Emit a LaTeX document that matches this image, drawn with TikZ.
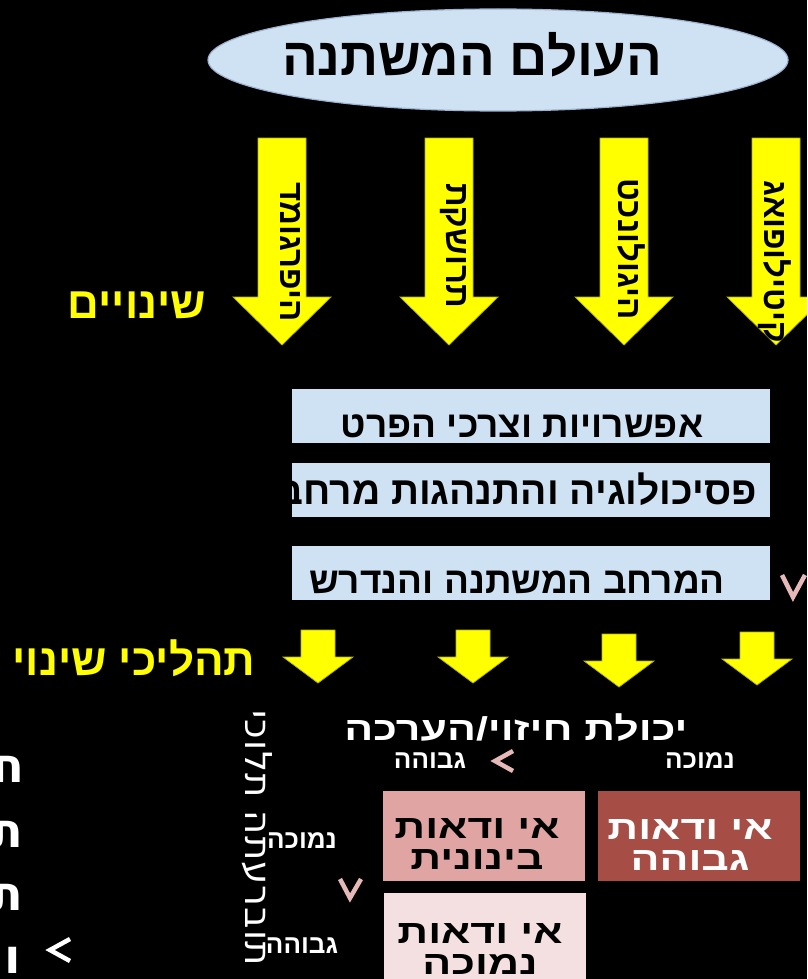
\documentclass[tikz,border=0pt]{standalone}
\usepackage{fontspec}
\usetikzlibrary{shapes.geometric}
\newfontfamily\hebfont[Script=Hebrew]{Liberation Sans}
\newfontfamily\hebwide[Script=Hebrew,FakeStretch=1.3]{Liberation Sans}
\newfontfamily\hebround[Script=Hebrew,LetterSpace=3]{DejaVu Sans}
\TeXXeTstate=1
\newcommand{\rtl}[1]{\beginR #1\endR}
\definecolor{worldblue}{HTML}{CFE2F3}
\definecolor{worldedge}{HTML}{9DB3CF}
\definecolor{changeyellow}{HTML}{FFFF00}
\definecolor{yellowedge}{HTML}{B5B500}
\definecolor{markpink}{HTML}{E6B9B8}
\definecolor{lowred}{HTML}{F4E0E0}
\definecolor{midred}{HTML}{E0A4A3}
\definecolor{highred}{HTML}{A64D45}
\begin{document}
\begin{tikzpicture}[x=1pt, y=-1pt,
    bigarrow/.style={fill=changeyellow, draw=yellowedge, line width=0.7pt},
    arrowlabel/.style={rotate=-90, anchor=base west, inner sep=0pt,
      font=\hebfont\bfseries\fontsize{33}{33}\selectfont},
    infobox/.style={fill=worldblue, inner sep=0pt, minimum width=478, minimum height=54},
    boxtext/.style={anchor=base, inner sep=0pt, font=\hebfont\bfseries\fontsize{37}{37}\selectfont},
    yellowtext/.style={anchor=base, inner sep=0pt, text=changeyellow,
      font=\hebfont\bfseries\fontsize{44}{44}\selectfont},
    cell/.style={inner sep=0pt, minimum width=202, minimum height=90},
    celltext/.style={anchor=base, inner sep=0pt,
      font=\hebwide\bfseries\fontsize{33}{33}\selectfont},
    smalltext/.style={anchor=base, inner sep=0pt, text=white,
      font=\hebfont\bfseries\fontsize{26}{26}\selectfont},
    chevron/.style={draw=markpink, line width=4.5pt},
    edgeletter/.style={anchor=base east, inner sep=0pt, text=white,
      font=\hebround\bfseries\fontsize{48}{48}\selectfont}]

  % Background and frame
  \path[use as bounding box, fill=black] (0,0) rectangle (807,979);
  \clip (0,0) rectangle (807,979);

  % The changing world
  \node[ellipse, fill=worldblue, draw=worldedge, line width=1.2pt,
    minimum width=580, minimum height=102] (world) at (498,60) {};
  \node[anchor=base, inner sep=0pt, font=\hebfont\bfseries\fontsize{53}{53}\selectfont]
    (worldtitle) at (472,76) {\rtl{העולם המשתנה}};

  % Big arrows of change
  \foreach \cx in {282,449,624,776}
    \draw[bigarrow] (\cx-24,138) -- (\cx+24,138) -- (\cx+24,297) -- (\cx+49,297)
      -- (\cx,345) -- (\cx-49,297) -- (\cx-24,297) -- cycle;
  \node[arrowlabel] (demography) at (280,182) {\rtl{היפרגומד}};
  \node[arrowlabel] (communication) at (446,183) {\rtl{תרושקת}};
  \node[arrowlabel] (technology) at (618,178) {\rtl{היגולונכט}};
  \node[arrowlabel] (geopolitics) at (764,180) {\rtl{הקיטילופואג}};
  \node[yellowtext] (changes) at (137,318) {\rtl{שינויים}};

  % Blue boxes
  \node[infobox] (options) at (531,415.5) {};
  \node[infobox] (psychology) at (531,490) {};
  \node[infobox] (space) at (531,573) {};
  \node[boxtext] (optionstext) at (522,437) {\rtl{אפשרויות וצרכי הפרט}};
  \node[boxtext, anchor=base east, font=\hebfont\bfseries\fontsize{39}{39}\selectfont]
    (psychologytext) at (757,504) {\rtl{פסיכולוגיה והתנהגות מרחב}};
  \node[boxtext] (spacetext) at (517,593) {\rtl{המרחב המשתנה והנדרש}};
  \draw[chevron] (782,575) -- (793,597) -- (805,575);

  % Small arrows
  \foreach \cx/\ty in {318/630,473/630,619/634,757/632}
    \draw[bigarrow] (\cx-17,\ty) -- (\cx+17,\ty) -- (\cx+17,\ty+27) -- (\cx+35,\ty+27)
      -- (\cx,\ty+53) -- (\cx-35,\ty+27) -- (\cx-17,\ty+27) -- cycle;
  \node[yellowtext] (processes) at (134,675) {\rtl{תהליכי שינוי}};

  % Uncertainty matrix
  \node[anchor=base, inner sep=0pt, text=white, font=\hebwide\bfseries\fontsize{33}{33}\selectfont]
    (forecast) at (516,740) {\rtl{יכולת חיזוי/הערכה}};
  \node[smalltext] (forecasthigh) at (430,768) {\rtl{גבוהה}};
  \node[smalltext] (forecastlow) at (700,768) {\rtl{נמוכה}};
  \draw[chevron] (513,751) -- (495,761) -- (513,771);
  \node[rotate=-90, anchor=base west, inner sep=0pt, text=white,
    font=\hebround\fontsize{37}{37}\selectfont] (intervention) at (245,710) {\rtl{תוברעתה תלוכי}};
  \node[smalltext] (interventionlow) at (302,848) {\rtl{נמוכה}};
  \node[smalltext] (interventionhigh) at (302,953) {\rtl{גבוהה}};
  \draw[chevron] (340,879) -- (350,898) -- (361,879);

  \node[cell, fill=midred] (midcell) at (484,836) {};
  \node[cell, fill=highred] (highcell) at (698.5,836) {};
  \node[cell, fill=lowred, minimum height=97] (lowcell) at (484.5,941.5) {};
  \node[celltext] (midtop) at (477,838) {\rtl{אי ודאות}};
  \node[celltext] (midbottom) at (477,869) {\rtl{בינונית}};
  \node[celltext, text=white] (hightop) at (690,839) {\rtl{אי ודאות}};
  \node[celltext, text=white] (highbottom) at (690,870) {\rtl{גבוהה}};
  \node[celltext] (lowtop) at (480,943) {\rtl{אי ודאות}};
  \node[celltext] (lowbottom) at (480,974) {\rtl{נמוכה}};

  % Cut letters at the left edge
  \node[edgeletter] (edgeA) at (25,782) {ח};
  \node[edgeletter] (edgeB) at (23,847) {ת};
  \node[edgeletter] (edgeC) at (23,910) {ת};
  \node[edgeletter] (edgeD) at (21,973) {ו};
  \draw[chevron, draw=white] (70,939) -- (50,950) -- (70,961);
\end{tikzpicture}
\end{document}
